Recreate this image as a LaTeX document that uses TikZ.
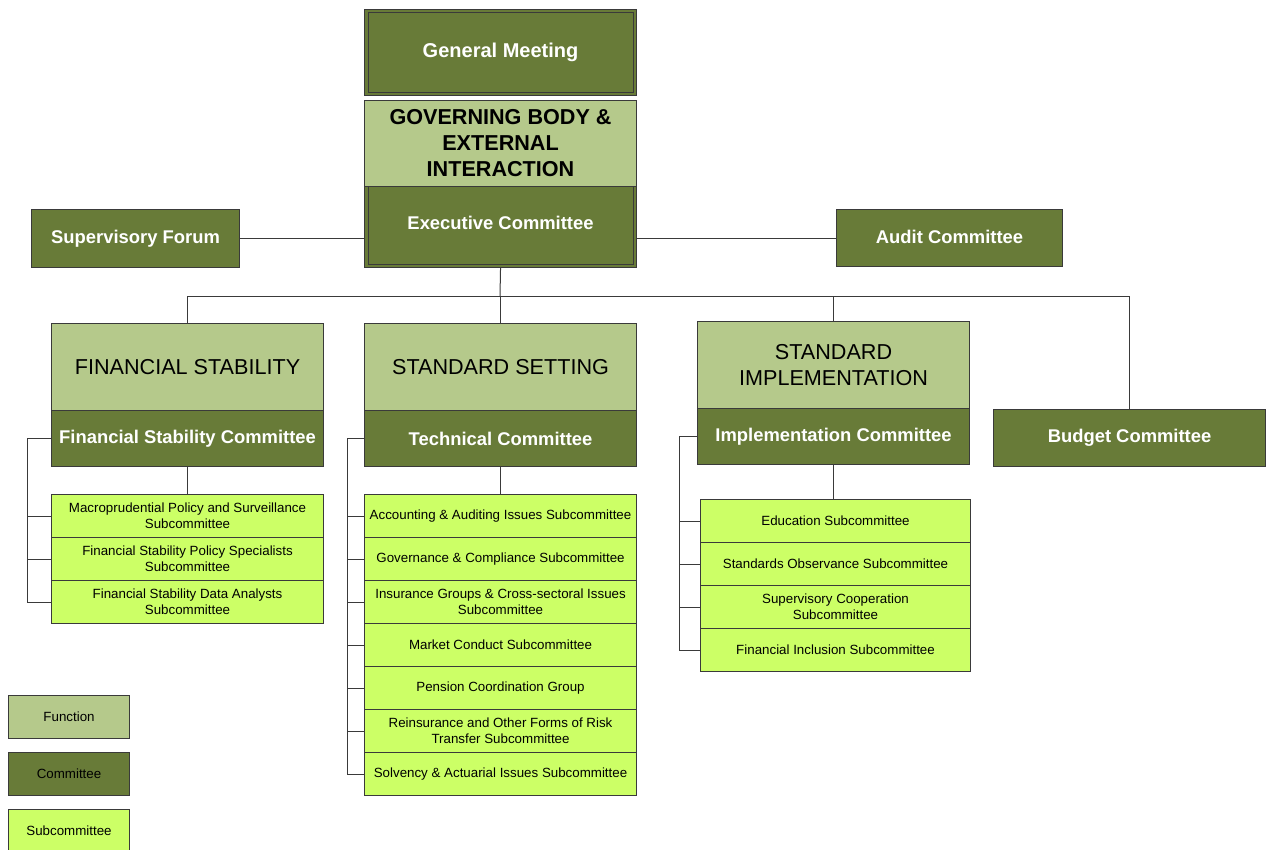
\documentclass[tikz,border=0pt]{standalone}
\usepackage{fontspec}
\setmainfont{Liberation Sans}
\usepackage{tikz}
\usetikzlibrary{calc}

\definecolor{funcgreen}{HTML}{B5C98B}
\definecolor{cmtegreen}{HTML}{687B38}
\definecolor{subgreen}{HTML}{CCFF66}
\definecolor{linegray}{HTML}{3A3A3A}

\begin{document}
\begin{tikzpicture}[x=0.75pt, y=-0.75pt,
        box/.style={draw=linegray, line width=0.8pt, anchor=north west, inner sep=0pt, align=center},
        func/.style={box, fill=funcgreen, minimum width=204pt, minimum height=65.25pt,
            font=\fontsize{16.2}{19.5}\selectfont},
        cmte/.style={box, fill=cmtegreen, text=white, minimum width=204pt, minimum height=42pt,
            font=\bfseries\fontsize{13.8}{16}\selectfont},
        subc/.style={box, fill=subgreen, minimum width=204pt, minimum height=32.25pt,
            font=\fontsize{10}{12}\selectfont},
        legend/.style={box, minimum width=90.75pt, minimum height=32.25pt,
            font=\fontsize{10}{12}\selectfont},
        link/.style={draw=linegray, line width=0.75pt}]
    \useasboundingbox (0,0) rectangle (1269,849);

    % top
    \node[cmte, minimum height=64.5pt, font=\bfseries\fontsize{15}{18}\selectfont] (gm) at (364,9)
        {\raisebox{4pt}{General Meeting}};
    \draw[link] ($(gm.north west)+(4,4)$) rectangle ($(gm.south east)+(-4,-4)$);
    \node[func, minimum height=64.5pt, font=\bfseries\fontsize{16.2}{19.5}\selectfont] (gov) at (364,100)
        {GOVERNING BODY \&\\EXTERNAL\\INTERACTION};
    \node[cmte, minimum height=60.75pt] (exec) at (364,186) {\raisebox{7pt}{Executive Committee}};
    \draw[link] ($(exec.north west)+(4,0)$) |- ($(exec.south east)+(-4,-4)$) -- ($(exec.north east)+(-4,0)$);
    \node[cmte, minimum width=156pt, minimum height=43.5pt] (sf) at (31,209) {Supervisory Forum};
    \node[cmte, minimum width=169.5pt, minimum height=42.75pt] (audit) at (836,209)
        {\raisebox{2pt}{Audit Committee}};

    % functions and committees
    \node[func] (fsf) at (51,323) {FINANCIAL STABILITY};
    \node[cmte] (fsc) at (51,410) {Financial Stability Committee};
    \node[func] (ssf) at (364,323) {STANDARD SETTING};
    \node[cmte] (tc) at (364,410) {Technical Committee};
    \node[func] (sif) at (697,321) {STANDARD\\IMPLEMENTATION};
    \node[cmte] (ic) at (697,408) {Implementation Committee};
    \node[cmte, minimum height=42.75pt] (bc) at (993,409) {Budget Committee};

    % subcommittees
    \foreach \txt [count=\i] in {{Macroprudential Policy and Surveillance\\Subcommittee},
            {Financial Stability Policy Specialists\\Subcommittee},
            {Financial Stability Data Analysts\\Subcommittee}}
        \node[subc] (fs\i) at (51,{451+43*\i}) {\txt};
    \foreach \txt [count=\i] in {{Accounting \& Auditing Issues Subcommittee},
            {Governance \& Compliance Subcommittee},
            {Insurance Groups \& Cross-sectoral Issues\\Subcommittee},
            {Market Conduct Subcommittee},
            {Pension Coordination Group},
            {Reinsurance and Other Forms of Risk\\Transfer Subcommittee},
            {Solvency \& Actuarial Issues Subcommittee}}
        \node[subc] (tc\i) at (364,{451+43*\i}) {\txt};
    \foreach \txt [count=\i] in {{Education Subcommittee},
            {Standards Observance Subcommittee},
            {Supervisory Cooperation\\Subcommittee},
            {Financial Inclusion Subcommittee}}
        \node[subc, minimum width=202.5pt] (ic\i) at (700,{456+43*\i}) {\txt};

    % legend
    \node[legend, fill=funcgreen] (lgf) at (8,695) {Function};
    \node[legend, fill=cmtegreen] (lgc) at (8,752) {Committee};
    \node[legend, fill=subgreen] (lgs) at (8,809) {Subcommittee};

    % connectors
    \coordinate (bus) at (500,296);
    \draw[link] (sf.east) -- (sf.east -| exec.west);
    \draw[link] (audit.west -| exec.east) -- (audit.west);
    \draw[link] (exec.south) -- (bus);
    \draw[link] (fsf.north) |- (bc.north |- bus) -- (bc.north);
    \draw[link] (ssf.north) -- (ssf.north |- bus);
    \draw[link] (sif.north) -- (sif.north |- bus);

    \draw[link] (fsc.south) -- (fs1.north);
    \draw[link] (tc.south) -- (tc1.north);
    \draw[link] (ic.south) -- (ic.south |- ic1.north);

    \coordinate (fsx) at (27,0);
    \coordinate (tcx) at (347,0);
    \coordinate (icx) at (679,0);
    \draw[link] (fsc.west) -| (fsx |- fs3.west) -- (fs3.west);
    \foreach \i in {1,2}
        \draw[link] (fsx |- fs\i.west) -- (fs\i.west);
    \draw[link] (tc.west) -| (tcx |- tc7.west) -- (tc7.west);
    \foreach \i in {1,...,6}
        \draw[link] (tcx |- tc\i.west) -- (tc\i.west);
    \draw[link] (ic.west) -| (icx |- ic4.west) -- (ic4.west);
    \foreach \i in {1,2,3}
        \draw[link] (icx |- ic\i.west) -- (ic\i.west);
\end{tikzpicture}
\end{document}
